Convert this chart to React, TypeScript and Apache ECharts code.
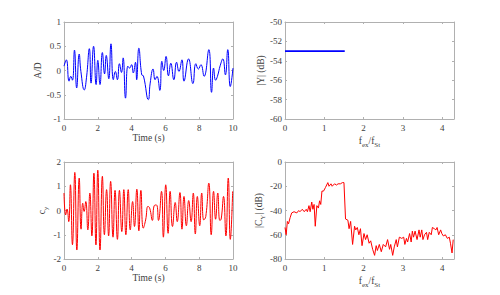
import React, { useEffect, useRef } from "react";
import * as echarts from "echarts";

// Top-left: A/D vs time (extrema)
const adTime = [0, 0.14, 0.3, 0.4, 0.5, 0.62, 0.75, 0.9, 1.0, 1.2, 1.33, 1.5, 1.6, 1.75, 1.9, 2.0, 2.13, 2.27, 2.4, 2.5, 2.65, 2.78, 2.92, 3.04, 3.16, 3.28, 3.4, 3.5, 3.64, 3.78, 3.88, 4.0, 4.1, 4.23, 4.3, 4.43, 4.6, 4.7, 4.99, 5.1, 5.27, 5.39, 5.5, 5.67, 5.79, 5.9, 6.04, 6.18, 6.32, 6.5, 6.66, 6.8, 6.98, 7.1, 7.37, 7.63, 7.8, 7.95, 8.1, 8.29, 8.57, 8.73, 8.85, 8.97, 9.08, 9.25, 9.4, 9.55, 9.69, 9.84, 10];
const adValue = [0.09, 0.22, -0.22, -0.12, -0.2, 0.42, -0.36, 0.34, -0.02, -0.4, -0.15, 0.45, -0.26, 0.5, -0.29, 0.21, -0.29, 0.37, -0.07, 0.31, -0.17, 0.55, -0.19, -0.02, -0.19, 0.14, -0.04, 0.26, -0.57, 0.09, 0.05, 0.12, -0.05, 0.17, -0.19, 0.46, -0.09, -0.11, -0.6, -0.26, 0.03, -0.19, -0.12, -0.41, 0.19, 0.0, 0.29, -0.11, 0.15, -0.19, 0.17, -0.02, 0.22, -0.22, 0.24, -0.27, 0.14, 0.03, 0.12, -0.12, 0.43, -0.45, 0.05, -0.2, -0.12, 0.11, 0.24, -0.09, 0.43, -0.33, 0.05];

// Bottom-left: c_y vs time
const cyTime = [0, 0.1, 0.18, 0.28, 0.38, 0.5, 0.64, 0.76, 0.9, 1.01, 1.11, 1.19, 1.29, 1.41, 1.53, 1.65, 1.77, 1.89, 2.0, 2.13, 2.27, 2.39, 2.52, 2.64, 2.76, 2.9, 3.02, 3.16, 3.28, 3.42, 3.54, 3.66, 3.8, 3.92, 4.06, 4.17, 4.31, 4.43, 4.55, 4.69, 4.83, 4.97, 5.07, 5.23, 5.33, 5.47, 5.59, 5.77, 5.88, 6.02, 6.16, 6.28, 6.42, 6.58, 6.7, 6.86, 6.98, 7.1, 7.24, 7.38, 7.52, 7.65, 7.77, 7.89, 8.03, 8.15, 8.27, 8.39, 8.57, 8.71, 8.85, 8.97, 9.1, 9.22, 9.3, 9.44, 9.58, 9.72, 9.84, 9.98];
const cyValue = [0.72, -0.18, 0.06, -0.46, 1.06, -1.41, 1.57, -1.63, 1.34, -0.77, 0.3, -0.04, 0.37, -0.8, 0.72, -1.05, 1.54, -1.42, 1.66, -1.63, 1.41, -1.0, 0.86, -1.05, 1.2, -1.1, 0.83, -1.19, 0.83, -0.87, 0.86, -1.0, 0.86, -0.8, 0.37, -0.66, 0.88, -0.84, 0.83, -0.73, -0.39, 0.17, 0.1, -0.41, 0.19, 0.23, -0.41, 0.79, -1.1, 1.06, -0.94, 0.79, -0.66, 0.33, -0.46, 0.74, -0.77, 0.58, -0.63, 0.41, -0.46, 0.72, -0.97, 0.58, -0.63, 0.72, -0.39, -0.25, 1.13, -1.0, 0.79, -0.36, 0.72, -0.41, -0.36, 0.58, -1.05, 1.34, -1.19, 0.79];

// Top-right: |Y| (dB)
const yFreq = [0, 1.52];
const yDb = [-53, -53];

// Bottom-right: |C_Y| (dB)
const cFreq = [0, 0.03, 0.06, 0.09, 0.13, 0.17, 0.23, 0.3, 0.35, 0.38, 0.44, 0.49, 0.54, 0.57, 0.61, 0.64, 0.68, 0.71, 0.74, 0.77, 0.81, 0.85, 0.88, 0.91, 0.94, 0.98, 1.03, 1.09, 1.12, 1.17, 1.2, 1.26, 1.31, 1.35, 1.41, 1.46, 1.5, 1.54, 1.6, 1.63, 1.67, 1.72, 1.77, 1.8, 1.84, 1.88, 1.92, 1.96, 2.01, 2.05, 2.09, 2.14, 2.18, 2.23, 2.28, 2.32, 2.35, 2.4, 2.45, 2.5, 2.56, 2.61, 2.66, 2.69, 2.74, 2.78, 2.83, 2.86, 2.91, 2.97, 3.02, 3.05, 3.09, 3.12, 3.17, 3.21, 3.24, 3.27, 3.31, 3.36, 3.41, 3.44, 3.48, 3.51, 3.55, 3.6, 3.63, 3.67, 3.72, 3.75, 3.8, 3.84, 3.87, 3.91, 3.96, 3.99, 4.03, 4.08, 4.13, 4.18, 4.21, 4.25, 4.28];
const cDb = [-54, -60, -49, -51, -46, -42, -41, -42, -40, -41, -39, -41, -39, -41, -36, -41, -33, -39, -35, -53, -36, -38, -32, -35, -24, -24, -21, -17, -20, -18, -20, -18, -19, -18, -18, -17, -17, -47, -48, -55, -49, -68, -53, -56, -54, -60, -55, -69, -59, -64, -60, -67, -65, -72, -77, -69, -73, -68, -74, -68, -70, -64, -72, -68, -77, -70, -64, -70, -62, -63, -62, -68, -63, -66, -59, -66, -57, -62, -57, -64, -56, -62, -56, -64, -60, -58, -64, -58, -60, -54, -55, -56, -54, -60, -56, -59, -61, -60, -63, -62, -67, -75, -64];

const FONT = "Liberation Serif";
const TXT = "#404040";
const AX = "#b0b0b0";

const pairs = (xs: number[], ys: number[]) => xs.map((x, i) => [x, ys[i]]);

export default function App() {
  const ref = useRef<HTMLDivElement>(null);
  useEffect(() => {
    if (!ref.current) return;
    const chart = echarts.init(ref.current, null, { renderer: "svg" });

    const grids = [
      { left: 64, top: 22, width: 169, height: 97 },
      { left: 285, top: 22, width: 169, height: 97 },
      { left: 64, top: 162, width: 169, height: 97 },
      { left: 285, top: 162, width: 169, height: 97 },
    ];

    const rich = {
      a: { fontFamily: FONT, fontSize: 9.5, color: TXT },
      s: { fontFamily: FONT, fontSize: 7, color: TXT, padding: [8, 0, 0, 0] },
    };

    const xDefs = [
      { min: 0, max: 10, interval: 2, name: "{a|Time (s)}", gap: 14 },
      { min: 0, max: 4.3, interval: 1, name: "{a|f}{s|ex}{a|/f}{s|St}", gap: 14 },
      { min: 0, max: 10, interval: 2, name: "{a|Time (s)}", gap: 14 },
      { min: 0, max: 4.3, interval: 1, name: "{a|f}{s|ex}{a|/f}{s|St}", gap: 14 },
    ];
    const yDefs = [
      { min: -1, max: 1, interval: 0.5, name: "{a|A/D}", gap: 17 },
      { min: -60, max: -50, interval: 2, name: "{a||Y| (dB)}", gap: 15 },
      { min: -2, max: 2, interval: 1, name: "{a|c}{s|y}", gap: 14 },
      { min: -80, max: 0, interval: 20, name: "{a||C}{s|Y}{a|| (dB)}", gap: 15 },
    ];

    const line = { show: true, onZero: false, lineStyle: { color: AX, width: 1 } };
    const tick = { show: true, inside: true, length: 2, lineStyle: { color: AX } };

    const xAxis: any[] = [];
    const yAxis: any[] = [];
    xDefs.forEach((d, i) => {
      xAxis.push({
        type: "value", gridIndex: i, position: "bottom", min: d.min, max: d.max, interval: d.interval,
        name: d.name, nameLocation: "middle", nameGap: d.gap,
        nameTextStyle: { fontFamily: FONT, fontSize: 9.5, color: TXT, rich },
        axisLine: line, axisTick: tick,
        axisLabel: { fontFamily: FONT, fontSize: 9, color: TXT, margin: 4, showMaxLabel: d.max === 10 },
        splitLine: { show: false },
      });
      xAxis.push({
        type: "value", gridIndex: i, position: "top", min: d.min, max: d.max, interval: d.interval,
        axisLine: line, axisTick: tick,
        axisLabel: { show: false }, splitLine: { show: false },
      });
    });
    yDefs.forEach((d, i) => {
      yAxis.push({
        type: "value", gridIndex: i, position: "left", min: d.min, max: d.max, interval: d.interval,
        name: d.name, nameLocation: "middle", nameGap: d.gap, nameRotate: 90,
        nameTextStyle: { fontFamily: FONT, fontSize: 9.5, color: TXT, rich },
        axisLine: line, axisTick: tick,
        axisLabel: { fontFamily: FONT, fontSize: 9, color: TXT, margin: 3 },
        splitLine: { show: false },
      });
      yAxis.push({
        type: "value", gridIndex: i, position: "right", min: d.min, max: d.max, interval: d.interval,
        axisLine: line, axisTick: tick,
        axisLabel: { show: false }, splitLine: { show: false },
      });
    });

    chart.setOption({
      animation: false,
      backgroundColor: "#ffffff",
      textStyle: { fontFamily: FONT },
      grid: grids,
      xAxis,
      yAxis,
      series: [
        {
          type: "line", xAxisIndex: 0, yAxisIndex: 0, data: pairs(adTime, adValue),
          showSymbol: false, smooth: 0.5, lineStyle: { color: "#0000ff", width: 1 },
        },
        {
          type: "line", xAxisIndex: 2, yAxisIndex: 2, data: pairs(yFreq, yDb),
          showSymbol: false, lineStyle: { color: "#0000ff", width: 1.8 },
        },
        {
          type: "line", xAxisIndex: 4, yAxisIndex: 4, data: pairs(cyTime, cyValue),
          showSymbol: false, smooth: 0.5, lineStyle: { color: "#ff0000", width: 1 },
        },
        {
          type: "line", xAxisIndex: 6, yAxisIndex: 6, data: pairs(cFreq, cDb),
          showSymbol: false, lineStyle: { color: "#ff0000", width: 1 },
        },
      ],
    });
    return () => chart.dispose();
  }, []);

  return (
    <div
      ref={ref}
      style={{ position: "fixed", left: 0, top: 0, width: 500, height: 295, background: "#fff" }}
    />
  );
}
